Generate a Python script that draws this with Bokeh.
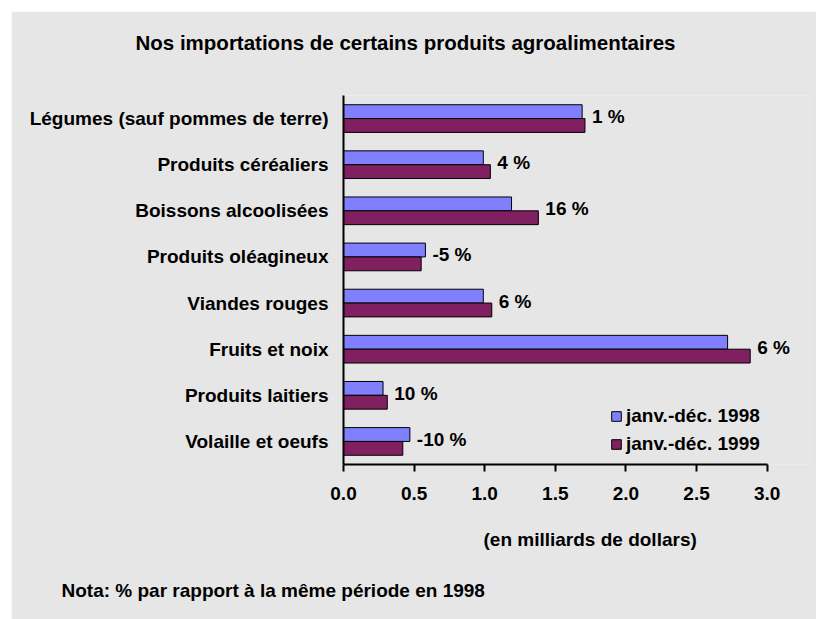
from bokeh.plotting import figure
from bokeh.models import (FactorRange, Range1d, ColumnDataSource, FixedTicker,
                          NumeralTickFormatter, LabelSet, Legend, LegendItem,
                          Title, LinearAxis)
from bokeh.transform import dodge
from bokeh.core.properties import value
from bokeh.embed import file_html
from bokeh.resources import INLINE

# ---- data ----
categories = ["Légumes (sauf pommes de terre)", "Produits céréaliers",
              "Boissons alcoolisées", "Produits oléagineux", "Viandes rouges",
              "Fruits et noix", "Produits laitiers", "Volaille et oeufs"]
imports_1998 = [1.69, 0.99, 1.19, 0.58, 0.99, 2.72, 0.28, 0.47]
imports_1999 = [1.71, 1.04, 1.38, 0.55, 1.05, 2.88, 0.31, 0.42]
change_labels = ["1 %", "4 %", "16 %", "-5 %", "6 %", "6 %", "10 %", "-10 %"]
x_ticks = [0, 0.5, 1.0, 1.5, 2.0, 2.5, 3.0]
series_names = ["janv.-déc. 1998", "janv.-déc. 1999"]
title_text = "Nos importations de certains produits agroalimentaires"
x_label_text = "(en milliards de dollars)"
note_text = "Nota: % par rapport à la même période en 1998"

# ---- style ----
BG = "#e6e6e6"
C98 = "#8080ff"
C99 = "#802060"
FONT = "Liberation Sans"
FS = "19px"

src = ColumnDataSource(dict(
    cat=categories, v98=imports_1998, v99=imports_1999, lab=change_labels,
    lx=[max(a, b) for a, b in zip(imports_1998, imports_1999)],
))

p = figure(y_range=FactorRange(*reversed(categories)), x_range=Range1d(0, 3.3),
           width=805, height=608, margin=(11, 0, 0, 11), title=None,
           output_backend="svg", toolbar_location=None,
           min_border_left=332, min_border_right=7,
           min_border_top=84, min_border_bottom=155,
           background_fill_color=BG, border_fill_color=BG,
           outline_line_color=None)

r98 = p.hbar(y=dodge("cat", 0.15, range=p.y_range), left=0, right="v98",
             height=0.3, fill_color=C98, line_color="black", line_width=1,
             source=src)
r99 = p.hbar(y=dodge("cat", -0.15, range=p.y_range), left=0, right="v99",
             height=0.3, fill_color=C99, line_color="black", line_width=1,
             source=src)

p.add_layout(LabelSet(x="lx", y="cat", text="lab", source=src, x_offset=7,
                      y_offset=2, text_font=value(FONT), text_font_style="bold",
                      text_font_size=FS, text_baseline="middle",
                      text_align="left", text_color="black"))

p.xgrid.visible = False
p.ygrid.visible = False

xa = p.xaxis[0]
xa.bounds = (0, 3)
xa.ticker = FixedTicker(ticks=x_ticks)
xa.formatter = NumeralTickFormatter(format="0.0")
xa.major_tick_out = 7
xa.major_tick_in = 0
xa.minor_tick_out = 0
xa.minor_tick_in = 0
xa.axis_line_width = 2
xa.major_tick_line_width = 2
xa.major_label_standoff = 15
xa.major_label_text_font = FONT
xa.major_label_text_font_style = "bold"
xa.major_label_text_font_size = FS
xa.major_label_text_color = "black"

ya = p.yaxis[0]
ya.major_tick_out = 0
ya.major_tick_in = 0
ya.axis_line_width = 2
ya.major_label_standoff = 15
ya.major_label_text_font = FONT
ya.major_label_text_font_style = "bold"
ya.major_label_text_font_size = FS
ya.major_label_text_color = "black"

legend = Legend(items=[LegendItem(label=series_names[0], renderers=[r98]),
                       LegendItem(label=series_names[1], renderers=[r99])],
                location=(267, 9), border_line_color=None,
                background_fill_alpha=0, padding=0, margin=0,
                glyph_width=12, glyph_height=12, label_standoff=4,
                spacing=6, label_height=20,
                label_text_font=FONT, label_text_font_style="bold",
                label_text_font_size=FS, label_text_color="black")
p.add_layout(legend)

# blank spacer axis between the frame and the title (background-coloured tick, no label)
spacer = LinearAxis(ticker=FixedTicker(ticks=[1.5]), axis_line_color=None,
                    major_tick_out=37, major_tick_in=0, major_tick_line_color=BG,
                    minor_tick_out=0, minor_tick_in=0,
                    major_label_standoff=0, major_label_overrides={1.5: ""})
p.add_layout(spacer, "above")

p.add_layout(Title(text=title_text, align="left", offset=-208, standoff=10,
                   text_font=FONT, text_font_style="bold",
                   text_font_size="20.5px", text_color="black"), "above")

tcommon = dict(text_font=FONT, text_font_style="bold", text_font_size=FS,
               text_color="black", align="left")
p.add_layout(Title(text=x_label_text, offset=140, standoff=48, **tcommon), "below")
p.add_layout(Title(text=note_text, offset=-282, standoff=8, **tcommon), "below")

open("out.html", "w").write(file_html(p, INLINE))
